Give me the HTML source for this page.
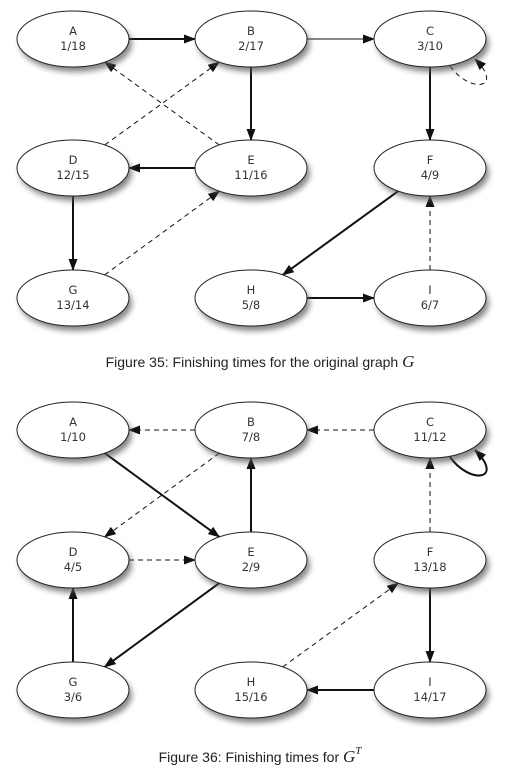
<!DOCTYPE html>
<html><head><meta charset="utf-8"><style>
body{margin:0;background:#fff;width:520px;height:772px;overflow:hidden}
svg{display:block}
.lbl{font-family:"DejaVu Sans","Liberation Sans",sans-serif;font-size:11.5px;fill:#333;text-anchor:middle}
.cap{font-family:"Liberation Sans",sans-serif;font-size:14px;fill:#222;text-anchor:middle}
</style></head><body>
<svg id="g" width="520" height="772" viewBox="0 0 520 772">
<defs>
<filter id="sh" x="-30%" y="-30%" width="170%" height="190%"><feGaussianBlur stdDeviation="3"/></filter>
<marker id="ar" markerWidth="12" markerHeight="9" refX="11" refY="4.5" orient="auto" markerUnits="userSpaceOnUse"><path d="M0,0 L12,4.5 L0,9 z" fill="#111"/></marker>
</defs>
<text class="cap" x="260" y="367">Figure 35: Finishing times for the original graph <tspan font-family="Liberation Serif" font-style="italic" font-size="17">G</tspan></text>
<text class="cap" x="260" y="762">Figure 36: Finishing times for <tspan font-family="Liberation Serif" font-style="italic" font-size="17">G</tspan><tspan font-family="Liberation Serif" font-style="italic" font-size="11" dy="-8">T</tspan></text>
</svg>
<script>
const svg=document.getElementById('g');
const NS='http://www.w3.org/2000/svg';
const colX=[73,251,430];
const rows1=[39,168,298], rows2=[430,560,690];
const pos={A:[0,0],B:[1,0],C:[2,0],D:[0,1],E:[1,1],F:[2,1],G:[0,2],H:[1,2],I:[2,2]};
const times1={A:'1/18',B:'2/17',C:'3/10',D:'12/15',E:'11/16',F:'4/9',G:'13/14',H:'5/8',I:'6/7'};
const times2={A:'1/10',B:'7/8',C:'11/12',D:'4/5',E:'2/9',F:'13/18',G:'3/6',H:'15/16',I:'14/17'};
const edges1=[['A','B','s'],['B','C','t'],['B','E','s'],['E','A','d'],['D','B','d'],['E','D','s'],['D','G','s'],['G','E','d'],['C','F','s'],['F','H','s'],['H','I','s'],['I','F','d']];
const edges2=[['B','A','d'],['C','B','d'],['A','E','s'],['B','D','d'],['E','B','s'],['D','E','d'],['E','G','s'],['G','D','s'],['F','C','d'],['H','F','d'],['F','I','s'],['I','H','s']];
const RX=56,RY=28;
function mk(tag,attrs){const e=document.createElementNS(NS,tag);for(const k in attrs)e.setAttribute(k,attrs[k]);svg.appendChild(e);return e;}
function center(n,rows){return [colX[pos[n][0]],rows[pos[n][1]]];}
function bound(c,dx,dy){const t=1/Math.sqrt((dx*dx)/(RX*RX)+(dy*dy)/(RY*RY));return [c[0]+dx*t,c[1]+dy*t];}
function drawGraph(rows,times,edges,tag,loopDashed){
  for(const e of edges){
    const a=center(e[0],rows),b=center(e[1],rows);
    const dx=b[0]-a[0],dy=b[1]-a[1];
    const p=bound(a,dx,dy),q=bound(b,-dx,-dy);
    const l=mk('line',{x1:p[0],y1:p[1],x2:q[0],y2:q[1],stroke:'#111','stroke-width':e[2]==='s'?2:1,'marker-end':'url(#ar)'});
    if(e[2]==='d')l.setAttribute('stroke-dasharray','5,4');
    
    
  }
  const c=center('C',rows);
  const lp=mk('path',{d:`M${c[0]+20},${c[1]+27} C${c[0]+40},${c[1]+55} ${c[0]+75},${c[1]+50} ${c[0]+45},${c[1]+20}`,fill:'none',stroke:'#111','stroke-width':loopDashed?1:2,'marker-end':'url(#ar)'});
  if(loopDashed)lp.setAttribute('stroke-dasharray','5,4');
  
  
  for(const n in pos){
    const p=center(n,rows);
    const s=mk('ellipse',{cx:p[0]+3,cy:p[1]+5,rx:RX,ry:RY,fill:'#555',opacity:0.7,filter:'url(#sh)'});
    
    
    const el=mk('ellipse',{cx:p[0],cy:p[1],rx:RX,ry:RY,fill:'#fff',stroke:'#222','stroke-width':1});
    
    
    const t1=mk('text',{x:p[0],y:p[1]-4,class:'lbl'});t1.textContent=n;
    
    
    const t2=mk('text',{x:p[0],y:p[1]+11,class:'lbl'});t2.textContent=times[n];
    
    
  }
}
drawGraph(rows1,times1,edges1,'g',true);
drawGraph(rows2,times2,edges2,'gt',false);
</script>
</body></html>
